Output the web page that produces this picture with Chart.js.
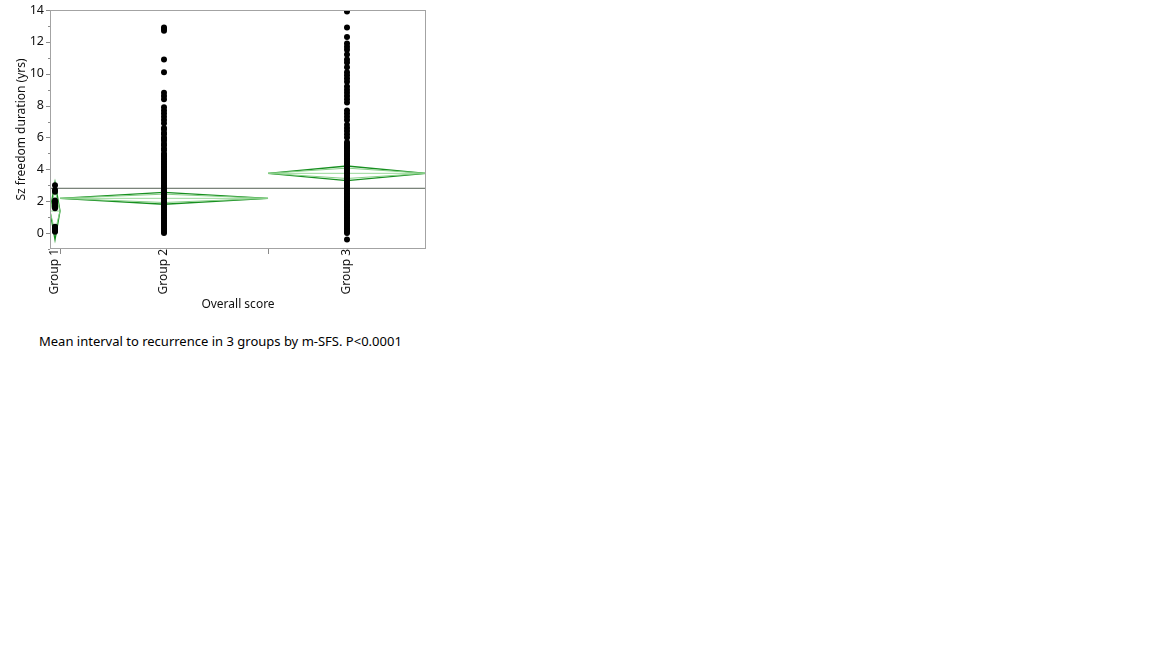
<!DOCTYPE html>
<html>
<head>
<meta charset="utf-8">
<script src="https://cdn.jsdelivr.net/npm/chart.js@4"></script>
<style>
  html, body { margin: 0; padding: 0; background: #fff; width: 1152px; height: 648px; overflow: hidden; }
  #wrap { position: absolute; left: 0; top: 0; width: 440px; height: 320px; }
  #caption { position: absolute; left: 39px; top: 332px; font-family: "Noto Sans", sans-serif; font-size: 13px; color: #000; white-space: nowrap; }
</style>
</head>
<body>
<div id="wrap"><canvas id="c" width="440" height="320"></canvas></div>
<div id="caption">Mean interval to recurrence in 3 groups by m-SFS. P&lt;0.0001</div>
<script>
// ---- data ----
const groupLabels = ["Group 1", "Group 2", "Group 3"];
const groupWeights = [10, 208, 158];          // relative group widths (JMP proportional x axis)
const groupMeans = [1.38, 2.18, 3.75];
const groupCIHalf = [1.80, 0.37, 0.46];
const grandMean = 2.81;
const yTickValues = [0, 2, 4, 6, 8, 10, 12, 14];

const group1Values = [0.08, 0.15, 0.2, 0.25, 0.3, 0.35, 0.4, 1.55, 1.65, 1.75, 1.85, 1.95, 2.05, 2.6, 2.7, 3.0];
const group2Values = [
  0.0, 0.1, 0.2, 0.3, 0.4, 0.5, 0.6, 0.7, 0.8, 0.9, 1.0, 1.1, 1.2, 1.3, 1.4, 1.5, 1.6, 1.7, 1.8, 1.9,
  2.0, 2.1, 2.2, 2.3, 2.4, 2.5, 2.6, 2.7, 2.8, 2.9, 3.0, 3.1, 3.2, 3.3, 3.4, 3.5, 3.6, 3.7, 3.8, 3.9,
  4.0, 4.1, 4.2, 4.3, 4.4, 4.5, 4.6, 4.7, 4.8, 4.9, 5.0, 5.2, 5.3, 5.5, 5.6, 5.8, 5.9, 6.0, 6.2, 6.3,
  6.5, 6.6, 6.9, 7.1, 7.3, 7.5, 7.7, 7.9, 8.4, 8.6, 8.8, 10.1, 10.9, 12.7, 12.8, 12.9
];
const group3Values = [
  -0.4, 0.0, 0.1, 0.2, 0.3, 0.4, 0.5, 0.6, 0.7, 0.8, 0.9, 1.0, 1.1, 1.2, 1.3, 1.4, 1.5, 1.6, 1.7, 1.8,
  1.9, 2.0, 2.1, 2.2, 2.3, 2.4, 2.5, 2.6, 2.7, 2.8, 2.9, 3.0, 3.1, 3.2, 3.3, 3.4, 3.5, 3.6, 3.7, 3.8,
  3.9, 4.0, 4.1, 4.2, 4.3, 4.4, 4.5, 4.6, 4.7, 4.8, 4.9, 5.0, 5.1, 5.2, 5.3, 5.4, 5.5, 5.6, 5.7, 6.0,
  6.2, 6.4, 6.6, 6.8, 7.1, 7.3, 7.5, 7.7, 8.2, 8.4, 8.6, 8.8, 9.0, 9.2, 9.5, 9.7, 9.9, 10.1, 10.4, 10.7,
  10.9, 11.2, 11.5, 11.7, 11.9, 12.3, 12.9, 13.9
];
const groupValues = [group1Values, group2Values, group3Values];

// ---- derived geometry in data units ----
const bounds = [];
let acc = 0;
groupWeights.forEach(w => { bounds.push([acc, acc + w]); acc += w; });
const totalWeight = acc;
const centers = bounds.map(b => (b[0] + b[1]) / 2);

const FONT = "'Noto Sans', sans-serif";
const datasets = [];

// grand mean line
datasets.push({
  type: 'line', data: [{x: 0, y: grandMean}, {x: totalWeight, y: grandMean}],
  borderColor: '#566256', borderWidth: 1, pointRadius: 0, fill: false, order: 3
});

// means diamonds
groupMeans.forEach((m, i) => {
  const [l, r] = bounds[i];
  const c = centers[i];
  const h = groupCIHalf[i];
  const hi = h / Math.SQRT2;
  datasets.push({
    type: 'line',
    data: [{x: l, y: m}, {x: c, y: m + hi}, {x: r, y: m}, {x: c, y: m - hi}, {x: l, y: m}],
    borderColor: '#86cf86', borderWidth: 1, pointRadius: 0, fill: false, tension: 0, order: 2
  });
  datasets.push({
    type: 'line',
    data: [{x: l, y: m}, {x: r, y: m}],
    borderColor: '#9ad89a', borderWidth: 1, pointRadius: 0, fill: false, order: 2
  });
  datasets.push({
    type: 'line',
    data: [{x: l, y: m}, {x: c, y: m + h}, {x: r, y: m}, {x: c, y: m - h}, {x: l, y: m}],
    borderColor: '#178f20', borderWidth: 1.3, pointRadius: 0, fill: false, tension: 0, order: 2
  });
});

// points
groupValues.forEach((vals, i) => {
  datasets.push({
    type: 'scatter',
    data: vals.map(v => ({x: centers[i], y: v})),
    backgroundColor: '#000', borderColor: '#000', pointRadius: 3, pointHoverRadius: 3, borderWidth: 0, order: 1
  });
});

const framePlugin = {
  id: 'frame',
  afterDraw(chart) {
    const {ctx, chartArea: a, scales} = chart;
    ctx.save();
    ctx.strokeStyle = '#a3a3a3';
    ctx.lineWidth = 1;
    ctx.strokeRect(Math.round(a.left) + 0.5, Math.round(a.top) + 0.5, Math.round(a.right - a.left) - 1, Math.round(a.bottom - a.top) - 1);
    const ys = scales.y;
    ctx.strokeStyle = '#8a8a8a';
    for (let v = Math.ceil(ys.min); v <= ys.max; v++) {
      const py = Math.round(ys.getPixelForValue(v)) + 0.5;
      const len = (v % 2 === 0) ? 4 : 2;
      ctx.beginPath();
      ctx.moveTo(a.left - len, py);
      ctx.lineTo(a.left, py);
      ctx.stroke();
    }
    const xs = scales.x;
    bounds.slice(1).forEach(b => {
      const px = Math.round(xs.getPixelForValue(b[0])) + 0.5;
      ctx.beginPath();
      ctx.moveTo(px, a.bottom);
      ctx.lineTo(px, a.bottom + 5);
      ctx.stroke();
    });
    ctx.restore();
  }
};

new Chart(document.getElementById('c'), {
  type: 'scatter',
  data: { datasets },
  options: {
    responsive: false,
    animation: false,
    events: [],
    layout: { padding: { left: 0, top: 10, right: 14, bottom: 0 } },
    plugins: { legend: { display: false }, tooltip: { enabled: false } },
    scales: {
      x: {
        type: 'linear', min: 0, max: totalWeight,
        grid: { display: false, drawTicks: false },
        border: { display: false },
        afterBuildTicks: s => { s.ticks = centers.map(v => ({value: v})); },
        afterFit: s => { s.height = 71; s.paddingLeft = 0; s.paddingRight = 0; },
        ticks: {
          autoSkip: false, minRotation: 90, maxRotation: 90, padding: 0,
          color: '#111', font: { family: FONT, size: 12 },
          callback: (v) => { const i = centers.indexOf(v); return i >= 0 ? groupLabels[i] : ''; }
        },
        title: { display: true, text: 'Overall score', color: '#111', font: { family: FONT, size: 12 }, padding: { top: 0, bottom: 8 } }
      },
      y: {
        type: 'linear', min: -1, max: 14,
        grid: { display: false, drawTicks: false },
        border: { display: false },
        afterBuildTicks: s => { s.ticks = yTickValues.map(v => ({value: v})); },
        afterFit: s => { s.width = 50; s.paddingTop = 0; s.paddingBottom = 0; },
        ticks: { padding: 6, color: '#111', font: { family: FONT, size: 12.5 } },
        title: { display: true, text: 'Sz freedom duration (yrs)', color: '#111', font: { family: FONT, size: 12 }, padding: { top: 14, bottom: 0 } }
      }
    }
  },
  plugins: [framePlugin]
});
</script>
</body>
</html>
